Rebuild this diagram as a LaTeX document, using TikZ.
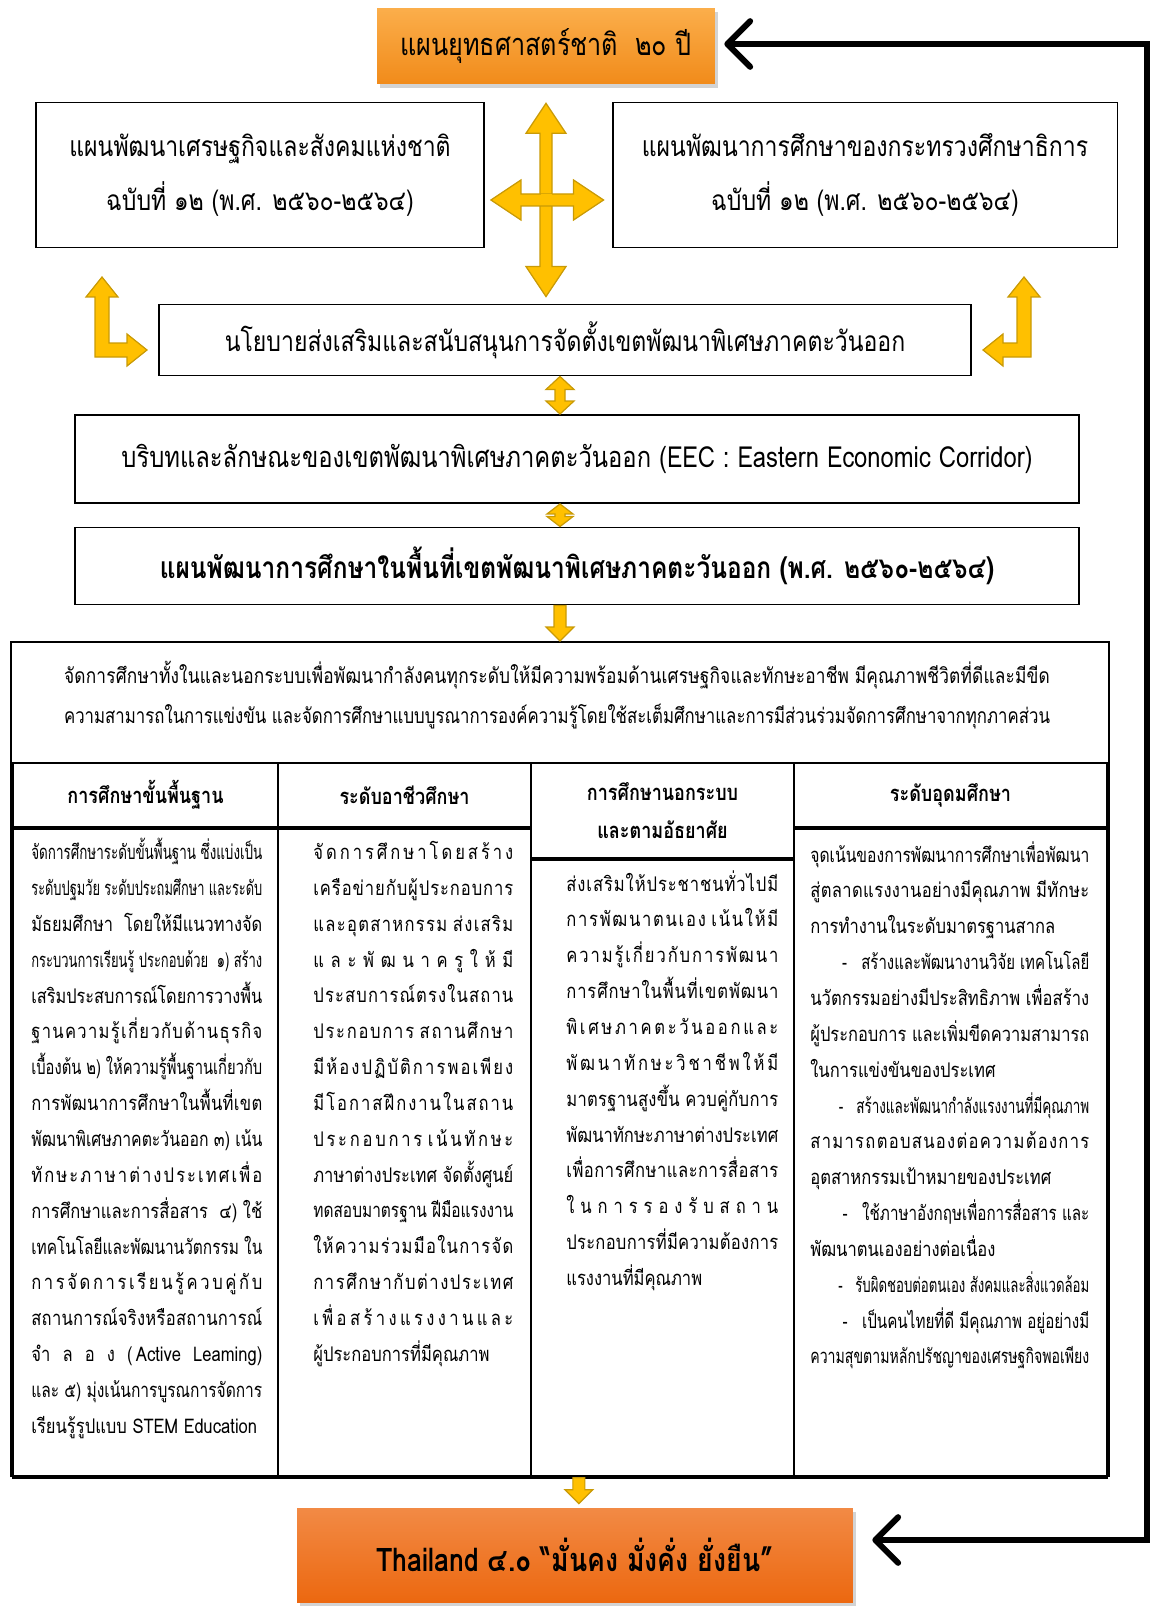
\documentclass[tikz,border=0pt]{standalone}
\usepackage{fontspec}
\usepackage{graphicx}
\newfontfamily\thaifont[Script=Thai]{Loma}
\newfontfamily\thainarrow[Script=Thai,FakeStretch=0.82]{Loma}
\usetikzlibrary{arrows.meta,calc,positioning,shadows}

\definecolor{topOrangeA}{HTML}{FBAE4B}
\definecolor{topOrangeB}{HTML}{F18B1A}
\definecolor{botOrangeA}{HTML}{F28A45}
\definecolor{botOrangeB}{HTML}{EC6810}
\definecolor{arrowYellow}{HTML}{FFC000}
\definecolor{arrowEdge}{HTML}{C99A06}

% spread Thai letters of a justified line
\newXeTeXintercharclass\thbase
\newXeTeXintercharclass\thmark
\newcommand{\setcls}[3]{\count255=#1\relax
  \loop\XeTeXcharclass\count255=#3\relax
  \ifnum\count255<#2\relax\advance\count255 by 1\repeat}
\setcls{"0E01}{"0E5B}{\thbase}
\setcls{"0E31}{"0E31}{\thmark}
\setcls{"0E33}{"0E3A}{\thmark}
\setcls{"0E47}{"0E4E}{\thmark}
\XeTeXinterchartoks\thbase\thbase={\hskip0pt plus1fil\relax}
\XeTeXinterchartoks\thmark\thbase={\hskip0pt plus1fil\relax}

\newlength\colw
\newsavebox\linebox
% justified line: squeezed if too long, spread if too short
\newcommand{\jline}[1]{{\XeTeXinterchartokenstate=1\relax
  \sbox\linebox{#1}%
  \ifdim\wd\linebox>\colw\relax\resizebox{\colw}{\height}{#1}\else\hbox to\colw{#1}\fi}}
\newcommand{\fline}[1]{\hbox{#1}}

% block arrow, two heads, up-down: top tip, bottom tip, shaft half, head half, head length
\newcommand{\vdblarrow}[5]{%
  \draw[yarrow] (#1) -- ($(#1)+(#4,#5)$) -- ($(#1)+(#3,#5)$)
    -- ($(#2)+(#3,-#5)$) -- ($(#2)+(#4,-#5)$) -- (#2)
    -- ($(#2)+(-#4,-#5)$) -- ($(#2)+(-#3,-#5)$)
    -- ($(#1)+(-#3,#5)$) -- ($(#1)+(-#4,#5)$) -- cycle;}
% block arrow, two heads, left-right: left tip, right tip, shaft half, head half, head length
\newcommand{\hdblarrow}[5]{%
  \draw[yarrow] (#1) -- ($(#1)+(#5,-#4)$) -- ($(#1)+(#5,-#3)$)
    -- ($(#2)+(-#5,-#3)$) -- ($(#2)+(-#5,-#4)$) -- (#2)
    -- ($(#2)+(-#5,#4)$) -- ($(#2)+(-#5,#3)$)
    -- ($(#1)+(#5,#3)$) -- ($(#1)+(#5,#4)$) -- cycle;}
% block arrow, one head, pointing down: top, tip, shaft half, head half, head length
\newcommand{\downblk}[5]{%
  \draw[yarrow] ($(#1)+(-#3,0)$) -- ($(#1)+(#3,0)$) -- ($(#2)+(#3,-#5)$)
    -- ($(#2)+(#4,-#5)$) -- (#2) -- ($(#2)+(-#4,-#5)$)
    -- ($(#2)+(-#3,-#5)$) -- cycle;}

\begin{document}
\begin{tikzpicture}[x=0.02cm,y=-0.02cm]
  \tikzset{orangebox/.style={rectangle, inner sep=0pt
    , drop shadow={shadow xshift=0.06cm, shadow yshift=-0.08cm, opacity=0.35}
    }
  , planbox/.style={draw, rectangle, line width=1.1pt, inner sep=0pt
    , align=center
    }
  , yarrow/.style={fill=arrowYellow, draw=arrowEdge, line width=0.7pt}
  , colhead/.style={draw, rectangle, line width=1.2pt, anchor=north west
    , align=center, inner sep=0pt
    , font=\thainarrow\bfseries\fontsize{12.5}{22}\selectfont
    }
  , colbody/.style={draw, rectangle, line width=1.2pt, anchor=north west}
  , coltext/.style={anchor=north west, inner sep=0pt, align=left
    , font=\thainarrow\fontsize{11.5}{20.4}\selectfont
    }
  , backarrow/.style={line width=3.4pt
    , {Straight Barb[length=13pt,width=26pt,round]}-{Straight Barb[length=13pt,width=26pt,round]}
    }
  }
\useasboundingbox (0,0) rectangle (1154,1608);

% top of the chain
\node [orangebox, top color=topOrangeA, bottom color=topOrangeB
  , minimum width=6.76cm, minimum height=1.52cm
  , font=\thainarrow\fontsize{17.5}{22}\selectfont] (strategy) at (546,46)
  {แผนยุทธศาสตร์ชาติ~~๒๐ ปี};

\node [planbox, minimum width=8.96cm, minimum height=2.9cm
  , font=\thainarrow\fontsize{16}{31}\selectfont] (econplan) at (260,175)
  {แผนพัฒนาเศรษฐกิจและสังคมแห่งชาติ\\ฉบับที่ ๑๒ (พ.ศ. ๒๕๖๐-๒๕๖๔)};
\node [planbox, minimum width=10.1cm, minimum height=2.9cm
  , font=\thainarrow\fontsize{16}{31}\selectfont] (moeplan) at (865,175)
  {แผนพัฒนาการศึกษาของกระทรวงศึกษาธิการ\\ฉบับที่ ๑๒ (พ.ศ. ๒๕๖๐-๒๕๖๔)};

\node [planbox, minimum width=16.24cm, minimum height=1.42cm
  , font=\thainarrow\fontsize{16}{18}\selectfont] (policy) at (565,340)
  {นโยบายส่งเสริมและสนับสนุนการจัดตั้งเขตพัฒนาพิเศษภาคตะวันออก};
\node [planbox, minimum width=20.08cm, minimum height=1.76cm
  , font=\thainarrow\fontsize{16.5}{18}\selectfont] (eec) at (577,459)
  {บริบทและลักษณะของเขตพัฒนาพิเศษภาคตะวันออก (EEC : Eastern Economic Corridor)};
\node [planbox, minimum width=20.08cm, minimum height=1.54cm
  , font=\thainarrow\bfseries\fontsize{17}{18}\selectfont] (eecplan) at (577,566)
  {แผนพัฒนาการศึกษาในพื้นที่เขตพัฒนาพิเศษภาคตะวันออก (พ.ศ. ๒๕๖๐-๒๕๖๔)};

% four-way arrow between the two plans
\coordinate (crossTop) at ($(strategy.south)+(0,19)$);
\coordinate (crossBot) at ($(strategy.south |- policy.north)+(0,-7)$);
\coordinate (crossL) at ($(econplan.east)+(6,25)$);
\coordinate (crossR) at ($(moeplan.west)+(-8,25)$);
\vdblarrow{crossTop}{crossBot}{6}{20}{30}
\hdblarrow{crossL}{crossR}{6}{20}{30}
\fill[arrowYellow] ($(crossTop |- crossL)+(-5.5,-5.5)$) rectangle ($(crossTop |- crossL)+(5.5,5.5)$);

% the two bent arrows
\coordinate (lTip) at (102,277);
\coordinate (lEnd) at (147,350);
\draw[yarrow] (lTip) -- ++(16,20) -- ++(-9,0) -- ($(lTip |- lEnd)+(7,-7)$)
  -- ($(lEnd)+(-20,-7)$) -- ($(lEnd)+(-20,-16)$) -- (lEnd)
  -- ($(lEnd)+(-20,16)$) -- ($(lEnd)+(-20,7)$) -- ($(lTip |- lEnd)+(-7,7)$)
  -- ($(lTip)+(-7,20)$) -- ($(lTip)+(-16,20)$) -- cycle;
\coordinate (rTip) at (1024,277);
\coordinate (rEnd) at (983,350);
\draw[yarrow] (rTip) -- ++(-16,20) -- ++(9,0) -- ($(rTip |- rEnd)+(-7,-7)$)
  -- ($(rEnd)+(20,-7)$) -- ($(rEnd)+(20,-16)$) -- (rEnd)
  -- ($(rEnd)+(20,16)$) -- ($(rEnd)+(20,7)$) -- ($(rTip |- rEnd)+(7,7)$)
  -- ($(rTip)+(7,20)$) -- ($(rTip)+(16,20)$) -- cycle;

% small arrows down the middle
\vdblarrow{$(policy.south)+(-5,0)$}{$(policy.south |- eec.north)+(-5,0)$}{5}{14}{13}
\vdblarrow{$(eec.south)+(-17,0)$}{$(eec.south |- eecplan.north)+(-17,0)$}{5}{13}{10}

% the education frame
\node [draw, rectangle, line width=1.1pt, anchor=north west
  , minimum width=21.96cm, minimum height=16.68cm] (eduframe) at (10,641) {};
\downblk{$(eecplan.south)+(-17,0)$}{$(eecplan.south |- eduframe.north)+(-17,0)$}{6}{14}{14}

\setlength\colw{19.72cm}
\node [align=center, inner sep=0pt
  , font=\thainarrow\fontsize{12}{22.7}\selectfont] (goal) at (557,695)
  {\jline{จัดการศึกษาทั้งในและนอกระบบเพื่อพัฒนากำลังคนทุกระดับให้มีความพร้อมด้านเศรษฐกิจและทักษะอาชีพ มีคุณภาพชีวิตที่ดีและมีขีด}\\
   \jline{ความสามารถในการแข่งขัน และจัดการศึกษาแบบบูรณาการองค์ความรู้โดยใช้สะเต็มศึกษาและการมีส่วนร่วมจัดการศึกษาจากทุกภาคส่วน}};

% four columns
\node [colhead, minimum width=5.3cm, minimum height=1.28cm] (basichead) at (12,762) {การศึกษาขั้นพื้นฐาน};
\node [colhead, minimum width=5.06cm, minimum height=1.28cm] (vochead) at (277,762) {ระดับอาชีวศึกษา};
\node [colhead, minimum width=5.26cm, minimum height=1.9cm] (nfhead) at (530,762) {การศึกษานอกระบบ\\และตามอัธยาศัย};
\node [colhead, minimum width=6.26cm, minimum height=1.28cm] (higherhead) at (793,762) {ระดับอุดมศึกษา};

\node [colbody, minimum width=5.3cm, minimum height=12.98cm] (basicbody) at (basichead.south west) {};
\node [colbody, minimum width=5.06cm, minimum height=12.98cm] (vocbody) at (vochead.south west) {};
\node [colbody, minimum width=5.26cm, minimum height=12.36cm] (nfbody) at (nfhead.south west) {};
\node [colbody, minimum width=6.26cm, minimum height=12.98cm] (higherbody) at (higherhead.south west) {};

\setlength\colw{4.62cm}
\node [coltext] (basictext) at (31,838)
  {\jline{จัดการศึกษาระดับขั้นพื้นฐาน ซึ่งแบ่งเป็น}\\
   \jline{ระดับปฐมวัย ระดับประถมศึกษา และระดับ}\\
   \jline{มัธยมศึกษา~~โดยให้มีแนวทางจัด}\\
   \jline{กระบวนการเรียนรู้ ประกอบด้วย~~๑) สร้าง}\\
   \jline{เสริมประสบการณ์โดยการวางพื้น}\\
   \jline{ฐานความรู้เกี่ยวกับด้านธุรกิจ}\\
   \jline{เบื้องต้น ๒) ให้ความรู้พื้นฐานเกี่ยวกับ}\\
   \jline{การพัฒนาการศึกษาในพื้นที่เขต}\\
   \jline{พัฒนาพิเศษภาคตะวันออก ๓) เน้น}\\
   \jline{ทักษะภาษาต่างประเทศเพื่อ}\\
   \jline{การศึกษาและการสื่อสาร~~๔) ใช้}\\
   \jline{เทคโนโลยีและพัฒนานวัตกรรม ใน}\\
   \jline{การจัดการเรียนรู้ควบคู่กับ}\\
   \jline{สถานการณ์จริงหรือสถานการณ์}\\
   \jline{จำลอง\hfil(\,Active\hfil Leaming)}\\
   \jline{และ ๕) มุ่งเน้นการบูรณการจัดการ}\\
   \fline{เรียนรู้รูปแบบ STEM Education}};
\setlength\colw{4.0cm}
\node [coltext] (vocText) at (313,841)
  {\jline{จัดการศึกษาโดยสร้าง}\\
   \jline{เครือข่ายกับผู้ประกอบการ}\\
   \jline{และอุตสาหกรรม ส่งเสริม}\\
   \jline{และพัฒนาครูให้มี}\\
   \jline{ประสบการณ์ตรงในสถาน}\\
   \jline{ประกอบการ สถานศึกษา}\\
   \jline{มีห้องปฏิบัติการพอเพียง}\\
   \jline{มีโอกาสฝึกงานในสถาน}\\
   \jline{ประกอบการ เน้นทักษะ}\\
   \jline{ภาษาต่างประเทศ จัดตั้งศูนย์}\\
   \jline{ทดสอบมาตรฐาน ฝีมือแรงงาน}\\
   \jline{ให้ความร่วมมือในการจัด}\\
   \jline{การศึกษากับต่างประเทศ}\\
   \jline{เพื่อสร้างแรงงานและ}\\
   \fline{ผู้ประกอบการที่มีคุณภาพ}};
\setlength\colw{4.24cm}
\node [coltext] (nfText) at (566,870)
  {\jline{ส่งเสริมให้ประชาชนทั่วไปมี}\\
   \jline{การพัฒนาตนเอง เน้นให้มี}\\
   \jline{ความรู้เกี่ยวกับการพัฒนา}\\
   \jline{การศึกษาในพื้นที่เขตพัฒนา}\\
   \jline{พิเศษภาคตะวันออกและ}\\
   \jline{พัฒนาทักษะวิชาชีพให้มี}\\
   \jline{มาตรฐานสูงขึ้น ควบคู่กับการ}\\
   \jline{พัฒนาทักษะภาษาต่างประเทศ}\\
   \jline{เพื่อการศึกษาและการสื่อสาร}\\
   \jline{ในการรองรับสถาน}\\
   \jline{ประกอบการที่มีความต้องการ}\\
   \fline{แรงงานที่มีคุณภาพ}};
\setlength\colw{5.58cm}
\node [coltext] (higherText) at (810,841)
  {\jline{จุดเน้นของการพัฒนาการศึกษาเพื่อพัฒนา}\\
   \jline{สู่ตลาดแรงงานอย่างมีคุณภาพ มีทักษะ}\\
   \fline{การทำงานในระดับมาตรฐานสากล}\\
   \jline{\hspace*{20pt}-\hspace*{9pt}สร้างและพัฒนางานวิจัย เทคโนโลยี}\\
   \jline{นวัตกรรมอย่างมีประสิทธิภาพ เพื่อสร้าง}\\
   \jline{ผู้ประกอบการ และเพิ่มขีดความสามารถ}\\
   \fline{ในการแข่งขันของประเทศ}\\
   \jline{\hspace*{20pt}-\hspace*{9pt}สร้างและพัฒนากำลังแรงงานที่มีคุณภาพ}\\
   \jline{สามารถตอบสนองต่อความต้องการ}\\
   \fline{อุตสาหกรรมเป้าหมายของประเทศ}\\
   \jline{\hspace*{20pt}-\hspace*{9pt}ใช้ภาษาอังกฤษเพื่อการสื่อสาร และ}\\
   \fline{พัฒนาตนเองอย่างต่อเนื่อง}\\
   \jline{\hspace*{20pt}-\hspace*{9pt}รับผิดชอบต่อตนเอง สังคมและสิ่งแวดล้อม}\\
   \jline{\hspace*{20pt}-\hspace*{9pt}เป็นคนไทยที่ดี มีคุณภาพ อยู่อย่างมี}\\
   \jline{ความสุขตามหลักปรัชญาของเศรษฐกิจพอเพียง}};

% bottom of the chain
\node [orangebox, top color=botOrangeA, bottom color=botOrangeB
  , minimum width=11.12cm, minimum height=1.88cm
  , font=\thainarrow\bfseries\fontsize{18.5}{22}\selectfont] (thailand) at (575,1555)
  {Thailand ๔.๐ “มั่นคง มั่งคั่ง ยั่งยืน”};
\downblk{$(eduframe.south)+(19,1)$}{$(eduframe.south |- thailand.north)+(19,-4)$}{6}{14}{14}

% feedback line on the right
\coordinate (rt) at (1147,44);
\coordinate (rb) at (1147,1540);
\draw[backarrow] ([xshift=0.18cm]strategy.east |- rt) -- (rt) -- (rb)
  -- ([xshift=0.38cm]thailand.east |- rb);
\end{tikzpicture}
\end{document}
